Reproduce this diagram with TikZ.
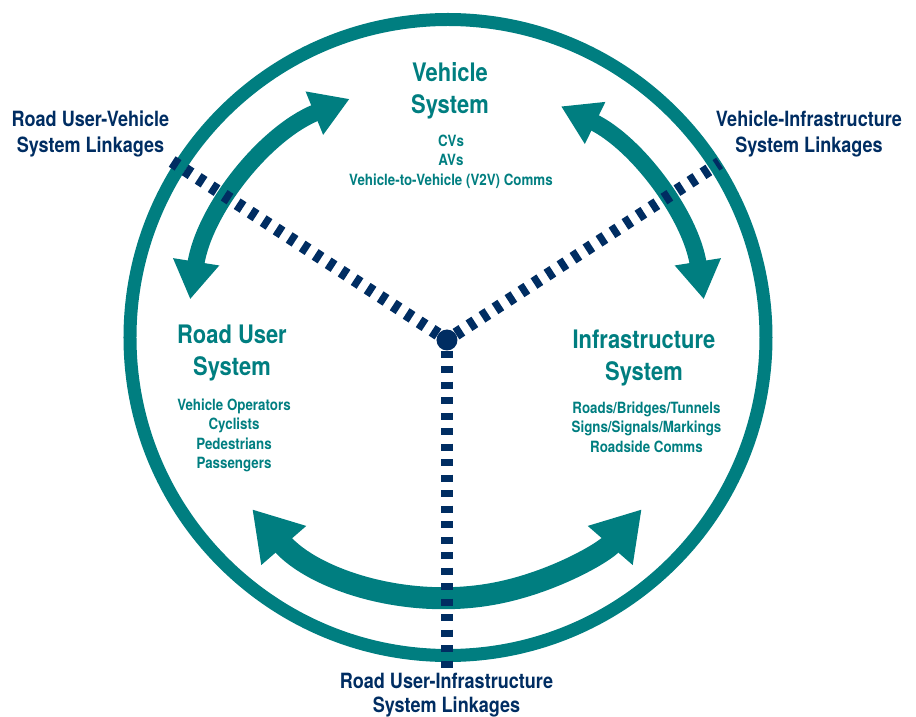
\documentclass[tikz,border=0pt]{standalone}
\usepackage{fontspec}
\setmainfont{TeX Gyre Heros}[FakeStretch=0.86]
\usepackage{xcolor}
\definecolor{Teal}{RGB}{0,126,128}
\definecolor{Navy}{RGB}{0,45,98}
\usepackage{tikz}
\usetikzlibrary{arrows.meta}
\tikzstyle{Ring}=[draw=Teal,line width=13pt]
\tikzstyle{Link}=[draw=Navy,line width=12.5pt,dash pattern=on 7pt off 8.5pt]
\tikzstyle{Hub}=[circle,fill=Navy,inner sep=0pt,minimum size=21pt]
\tikzstyle{BigArrow}=[draw=Teal,line width=22pt,>={Triangle[length=48pt,width=56pt]},<->]
\tikzstyle{SmallArrow}=[draw=Teal,line width=17pt,>={Triangle[length=38pt,width=44pt]},<->]
\tikzstyle{NodeTitle}=[text=Teal,align=center,inner sep=0pt,
font=\bfseries\fontsize{25.5}{32}\selectfont]
\tikzstyle{NodeItems}=[text=Teal,align=center,inner sep=0pt,
font=\bfseries\fontsize{15.5}{19.5}\selectfont]
\tikzstyle{NodeLink}=[text=Navy,align=center,inner sep=0pt,
font=\bfseries\fontsize{21}{26}\selectfont]

\begin{document}
\begin{tikzpicture}[x=1pt,y=1pt]
        \useasboundingbox (-447,-377) rectangle (469,340);
        \draw[Ring] (1,2.5) circle[radius=318pt];
        % curved linkage arrows
        \coordinate (ru-v-a) at (171:260);
        \coordinate (v-i-a) at (9:260);
        \coordinate (ru-i-a) at (221:258);
        \draw[SmallArrow] (ru-v-a) arc[start angle=171,end angle=112,radius=260pt];
        \draw[SmallArrow] (v-i-a) arc[start angle=9,end angle=64,radius=260pt];
        \draw[BigArrow] (ru-i-a) arc[start angle=221,end angle=319,radius=258pt];
        % hub and dashed linkages
        \node[Hub](hub)at(0,0){};
        \coordinate (ru-v) at (147:330);
        \coordinate (v-i) at (33:325);
        \coordinate (ru-i) at (0,-331);
        \draw[Link](hub)--(ru-v);
        \draw[Link](hub)--(v-i);
        \draw[Link](hub)--(ru-i);
        % systems
        \node[NodeTitle](veh)at(3,249.5){Vehicle\\System};
        \node[NodeItems](veh-list)at(4,178.5){CVs\\AVs\\Vehicle-to-Vehicle (V2V) Comms};
        \node[NodeTitle](ru)at(-215,-12.5){Road User\\System};
        \node[NodeItems](ru-list)at(-213,-95.2){Vehicle Operators\\Cyclists\\Pedestrians\\Passengers};
        \node[NodeTitle](inf)at(197,-17.5){Infrastructure\\System};
        \node[NodeItems](inf-list)at(199.5,-87){Roads/Bridges/Tunnels\\Signs/Signals/Markings\\Roadside Comms};
        % linkage labels
        \node[NodeLink](ru-v-t)at(-356.5,206.3){Road User-Vehicle\\System Linkages};
        \node[NodeLink](v-i-t)at(362,206){Vehicle-Infrastructure\\System Linkages};
        \node[NodeLink,font=\bfseries\fontsize{21}{24}\selectfont](ru-i-t)at(-0.5,-355){Road User-Infrastructure\\System Linkages};
    \end{tikzpicture}
\end{document}
